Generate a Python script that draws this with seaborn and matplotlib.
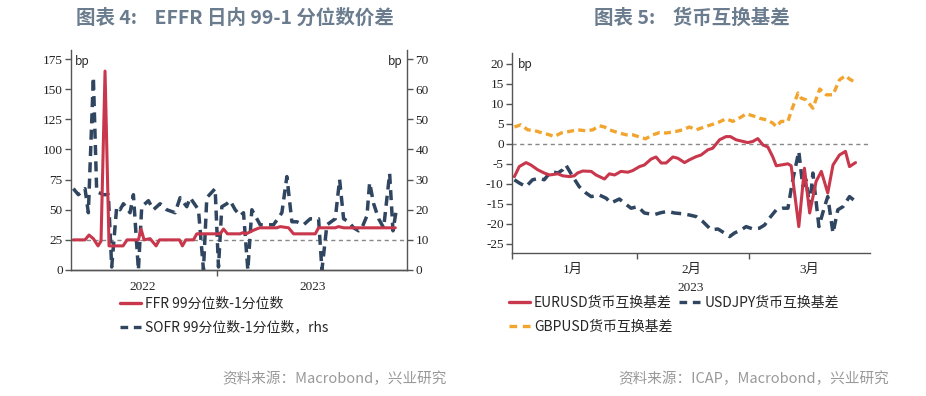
import matplotlib

matplotlib.use("Agg")
import matplotlib.pyplot as plt
from matplotlib.lines import Line2D
import pandas as pd
import seaborn as sns

# ---- chart 4: EFFR / SOFR intraday 99-1 percentile spread (bp)
FFR_T = [0, 3.5, 4.7, 6.0, 7.4, 8.3, 9.5, 10.7, 14.9, 16.1, 19.5, 20.3, 21.2, 23, 24.8,
         25.8, 31.8, 32.7, 33.7, 36, 37, 44, 45, 46.2, 50, 50.8, 51.8, 54, 55.8, 61, 62,
         64.5, 66, 72.5, 73.5, 78.5, 79.5, 81, 96.5]
FFR_BP = [25, 25, 29, 26, 20, 24, 165, 20, 20, 25, 25, 34, 25, 26, 20,
          25, 25, 20, 25, 25, 30, 30, 34, 30, 30, 31, 30, 33, 35, 35, 36,
          35, 30, 30, 35, 35, 36, 35, 35]
SOFR_T = [0, 1.5, 3.5, 4.5, 6, 7, 9, 10.5, 11.5, 13, 14, 15, 17, 18, 19.5, 20.5, 22.5,
          24, 26, 28, 30.5, 32, 34, 35, 37.5, 39, 40, 42.5, 43.5, 44.5, 46, 47, 48.5,
          50, 51, 52.3, 53.5, 54.5, 56, 60, 62.5, 64, 65.5, 67, 69, 71, 73.5, 74.5, 76,
          78.5, 79.8, 81, 82.5, 84, 85.5, 86.5, 88, 88.8, 90, 91.5, 93, 94.8, 95.8, 96.8]
SOFR_BP = [27, 25, 27, 19, 64, 26, 25, 25, 1, 21, 20, 22, 19, 25, 0, 21, 23,
           20, 22, 20, 19, 24, 21, 24, 20, 0, 24, 27, 1, 21, 22, 23, 20,
           18, 19, 0, 20, 18, 15, 15, 19, 31, 16, 16, 15, 17, 17, 0, 15,
           17, 30, 17, 16, 14, 13, 14, 18, 29, 22, 17, 14, 32, 13, 20]
YEAR_LABELS = ["2022", "2023"]
YEAR_BREAK = 43
YEAR_MID = [20.9, 71.6]

# ---- chart 5: cross-currency basis (bp), day offsets from 2023-01-01
EUR_DAY = [0.6, 1.8, 3.5, 4.7, 6.4, 8.0, 9.3, 11.4, 12.6, 14.3, 15.5, 16.3, 17.6, 19.7,
           20.9, 23.0, 24.2, 25.5, 27.1, 28.8, 30.0, 31.7, 32.9, 34.6, 35.8, 37.1, 38.3,
           40.0, 41.2, 42.9, 44.1, 45.8, 47.0, 48.7, 49.9, 51.6, 53.2, 54.3, 55.7, 57.4,
           58.6, 59.9, 61.1, 62.4, 63.6, 64.8, 65.7, 68.6, 69.4, 71.3, 72.7, 74.0, 75.6,
           76.9, 78.5, 79.8, 81.4, 82.9, 83.9, 85.4]
EUR_BP = [-8.2, -5.7, -4.7, -5.3, -6.5, -7.3, -7.8, -7.5, -8.0, -8.2, -8.0, -7.3, -6.8, -6.9,
          -7.8, -8.8, -7.5, -7.8, -6.9, -7.1, -6.7, -5.7, -5.3, -3.8, -3.3, -4.8, -4.8,
          -3.3, -3.6, -4.7, -4.0, -3.2, -2.8, -1.5, -1.1, 1.0, 1.8, 1.8, 1.0, 0.6,
          0.3, 0.6, 1.3, -0.3, -0.8, -3.2, -5.5, -5.0, -5.5, -20.7, -6.1, -17.3, -9.4,
          -6.9, -12.3, -5.3, -2.8, -1.9, -5.7, -4.7]
JPY_DAY = [0.6, 1.8, 3.5, 5.1, 6.8, 8.0, 9.7, 11.4, 12.6, 13.4, 15.1, 16.7, 18.4, 19.7,
           21.7, 23.4, 24.6, 26.7, 27.9, 29.6, 31.3, 32.9, 35.4, 37.1, 38.7, 40.4, 42.5,
           44.1, 45.8, 47.4, 49.5, 51.2, 52.8, 54.1, 55.3, 57.0, 58.2, 59.9, 61.5, 62.8,
           64.0, 65.7, 67.3, 68.6, 69.8, 71.3, 72.3, 73.1, 74.0, 74.8, 76.3, 77.7, 78.5,
           79.8, 81.0, 82.3, 83.9, 85.4]
JPY_BP = [-9, -9.8, -10.7, -9, -8.6, -9, -6.9, -7.3, -6.5, -5.3, -8.2, -10.7, -12.3, -13.2,
          -12.8, -13.6, -14.8, -13.8, -14.8, -16.1, -15.7, -17.3, -17.7, -17.2, -16.9, -17.3, -17.5,
          -17.8, -18.2, -19.4, -21.5, -21.3, -22.3, -23.2, -22.3, -21.5, -20.7, -21.3, -21.1, -20.3,
          -18.6, -16.5, -16.1, -16.1, -9, -1.9, -10.7, -9, -15.7, -7.3, -20.7, -15.7, -13.2,
          -22.3, -16.5, -15.7, -13.2, -14.4]
GBP_DAY = [0.6, 2.2, 3.9, 5.6, 7.6, 9.3, 10.5, 12.2, 14.3, 16.3, 18.4, 20.1, 21.7, 23.0,
           24.2, 26.3, 28.4, 30.0, 31.7, 33.2, 35.0, 36.7, 38.3, 40.8, 42.5, 44.1, 45.8,
           47.8, 49.5, 51.2, 53.2, 54.9, 57.0, 58.2, 59.9, 61.5, 63.2, 64.8, 65.7, 66.9,
           68.6, 69.4, 71.1, 71.9, 73.1, 74.8, 76.5, 78.1, 79.8, 81.4, 82.9, 83.9, 85.4]
GBP_BP = [4.2, 4.75, 3.5, 3.3, 2.7, 2.25, 1.8, 2.7, 3.1, 3.5, 3.25, 3.5, 4.5, 4.2,
          3.5, 2.8, 2.25, 2.25, 1.7, 1.25, 2.25, 2.8, 2.7, 3.1, 3.5, 4.2, 3.5,
          4.2, 4.75, 5.3, 6.25, 5.6, 6.7, 7.5, 7.0, 6.4, 6.0, 5.2, 4.3, 5.6,
          5.6, 8.1, 12.7, 11.4, 11.0, 8.9, 13.7, 12.25, 12.25, 16.0, 17.0, 16.2, 15.3]
MONTH_LABELS = ["1月", "2月", "3月"]

RED = "#C8374B"
NAVY = "#2F4560"
ORANGE = "#F2A52E"
TITLE_C = "#6B7C8F"
SPINE_C = "#555555"

sns.set_theme(style="ticks")
plt.rcParams["font.family"] = ["Liberation Serif", "Noto Sans CJK SC", "DejaVu Sans"]
plt.rcParams["axes.unicode_minus"] = False
CJK = ["Noto Sans CJK SC", "DejaVu Sans"]


def style_axis(ax):
    for side in ["left", "right", "bottom", "top"]:
        ax.spines[side].set_color(SPINE_C)
        ax.spines[side].set_linewidth(1.0)
    ax.tick_params(axis="both", which="major", labelsize=9.5, length=4, width=1,
                   color=SPINE_C, labelcolor="#222222", pad=2)


def legend_handle(color, dashes=None):
    h = Line2D([], [], color=color, linewidth=2.4)
    if dashes:
        h.set_dashes(dashes)
    return h


LEG_DASH = (2.3, 1.7)

fig = plt.figure(figsize=(9.26, 3.96), dpi=100)

# ---------------- chart 4 ----------------
ax1 = fig.add_axes([71 / 926, 1 - 270 / 396, (407 - 71) / 926, (270 - 50) / 396])
ax1r = ax1.twinx()
ffr = pd.DataFrame({"t": FFR_T, "bp": FFR_BP})
sofr = pd.DataFrame({"t": SOFR_T, "bp": SOFR_BP})
sns.lineplot(data=sofr, x="t", y="bp", ax=ax1r, color=NAVY, linewidth=2.5, legend=False)
ax1r.lines[-1].set_dashes((2.9, 1.8))
ax1r.axhline(10, color="#888888", linewidth=1, linestyle=(0, (3, 2.5)), zorder=1)
sns.lineplot(data=ffr, x="t", y="bp", ax=ax1, color=RED, linewidth=2.2, legend=False)
ax1.set_zorder(ax1r.get_zorder() + 1)
ax1.patch.set_visible(False)
ax1.set_ylim(0, 182.5)
ax1r.set_ylim(0, 73)
ax1.set_xlim(-0.7, 100)
ax1.set_yticks(range(0, 176, 25))
ax1r.set_yticks(range(0, 71, 10))
ax1.set_xticks([YEAR_BREAK])
ax1.set_xticklabels([""])
ax1.set_xticks(YEAR_MID, minor=True)
ax1.set_xticklabels(YEAR_LABELS, minor=True)
ax1.set_xlabel("")
ax1.set_ylabel("")
ax1r.set_ylabel("")
for a in (ax1, ax1r):
    style_axis(a)
    a.spines["top"].set_visible(False)
ax1.spines["right"].set_visible(False)
ax1r.spines["left"].set_visible(False)
ax1.tick_params(axis="x", which="minor", length=0, labelsize=9.5, pad=8)
ax1.text(0.012, 0.975, "bp", transform=ax1.transAxes, ha="left", va="top",
         fontsize=8.5, family=CJK)
ax1.text(0.988, 0.975, "bp", transform=ax1.transAxes, ha="right", va="top",
         fontsize=8.5, family=CJK)

fig.legend([legend_handle(RED), legend_handle(NAVY, LEG_DASH)],
           ["FFR 99分位数-1分位数", "SOFR 99分位数-1分位数，rhs"],
           loc="upper left", bbox_to_anchor=(120 / 926, 1 - 297 / 396), frameon=False,
           prop={"family": CJK, "size": 10}, handlelength=1.5, handletextpad=0.3,
           borderpad=0, borderaxespad=0, labelspacing=0.7)

# ---------------- chart 5 ----------------
ax2 = fig.add_axes([512 / 926, 1 - 253 / 396, (870 - 512) / 926, (253 - 53) / 396])
base = pd.Timestamp("2023-01-01")
eur = pd.DataFrame({"date": base + pd.to_timedelta(EUR_DAY, unit="D"), "bp": EUR_BP})
jpy = pd.DataFrame({"date": base + pd.to_timedelta(JPY_DAY, unit="D"), "bp": JPY_BP})
gbp = pd.DataFrame({"date": base + pd.to_timedelta(GBP_DAY, unit="D"), "bp": GBP_BP})
ax2.axhline(0, color="#888888", linewidth=1, linestyle=(0, (3, 2.5)), zorder=1)
sns.lineplot(data=gbp, x="date", y="bp", ax=ax2, color=ORANGE, linewidth=2.4, legend=False)
ax2.lines[-1].set_dashes((2.1, 1.3))
sns.lineplot(data=jpy, x="date", y="bp", ax=ax2, color=NAVY, linewidth=2.5, legend=False)
ax2.lines[-1].set_dashes((2.9, 1.8))
sns.lineplot(data=eur, x="date", y="bp", ax=ax2, color=RED, linewidth=2.2, legend=False)
ax2.set_ylim(-27.3, 22.7)
ax2.set_yticks(range(-25, 21, 5))
ax2.set_xlim(base, base + pd.Timedelta(days=89))
ax2.set_xticks([base, pd.Timestamp("2023-02-01"), pd.Timestamp("2023-03-01")])
ax2.set_xticklabels(["", "", ""])
ax2.set_xticks([pd.Timestamp("2023-01-16"), pd.Timestamp("2023-02-14 12:00"),
                pd.Timestamp("2023-03-16")], minor=True)
ax2.set_xticklabels(MONTH_LABELS, minor=True)
style_axis(ax2)
ax2.tick_params(axis="x", which="minor", length=0, labelsize=9.5, pad=8)
ax2.spines["top"].set_visible(False)
ax2.spines["right"].set_visible(False)
ax2.set_ylabel("")
ax2.set_xlabel("2023", fontsize=9.5, labelpad=4)
ax2.text(0.017, 0.975, "bp", transform=ax2.transAxes, ha="left", va="top",
         fontsize=8.5, family=CJK)
fig.legend([legend_handle(RED), legend_handle(ORANGE, LEG_DASH),
            legend_handle(NAVY, LEG_DASH)],
           ["EURUSD货币互换基差", "GBPUSD货币互换基差", "USDJPY货币互换基差"],
           ncol=2, loc="upper left", bbox_to_anchor=(509 / 926, 1 - 296 / 396), frameon=False,
           prop={"family": CJK, "size": 10}, handlelength=1.5, handletextpad=0.3,
           columnspacing=0.5, borderpad=0, borderaxespad=0, labelspacing=0.7)

# ---------------- titles and sources ----------------
fig.text(235 / 926, 1 - 18 / 396, "图表 4:    EFFR 日内 99-1 分位数价差", ha="center",
         va="center", fontsize=14, fontweight="bold", color=TITLE_C, family=CJK)
fig.text(692 / 926, 1 - 18 / 396, "图表 5:    货币互换基差", ha="center",
         va="center", fontsize=14, fontweight="bold", color=TITLE_C, family=CJK)
fig.text(447 / 926, 1 - 379 / 396, "资料来源：Macrobond，兴业研究", ha="right",
         va="center", fontsize=10.5, color="#999999", family=CJK)
fig.text(889 / 926, 1 - 379 / 396, "资料来源：ICAP，Macrobond，兴业研究", ha="right",
         va="center", fontsize=10.5, color="#999999", family=CJK)

fig.savefig("out.png", dpi=100)
